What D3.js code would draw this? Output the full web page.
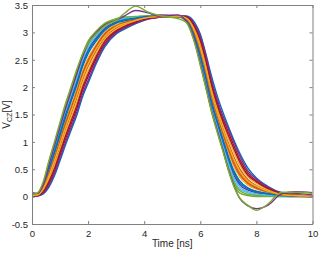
<!DOCTYPE html>
<html>
<head>
<meta charset="utf-8">
<script src="https://cdn.jsdelivr.net/npm/d3@7"></script>
<style>
  body { margin: 0; background: #fff; }
  svg { display: block; font-family: "Liberation Sans", Arial, sans-serif; }
  .axis text { fill: #262626; font-size: 9.5px; }
  .axis path, .axis line { stroke: #808080; }
</style>
</head>
<body>
<svg width="320" height="253"></svg>
<script>
// time axis shared by all runs [ns]
const timeNs = [0, 0.2, 0.4, 0.6, 0.8, 1.0, 1.2, 1.4, 1.6, 1.8, 2.0, 2.3, 2.6, 3.0, 3.3, 3.7, 4.1, 4.6, 5.2, 5.5, 5.8, 6.0, 6.2, 6.4, 6.6, 6.8, 7.0, 7.2, 7.4, 7.7, 8.0, 8.4, 8.9, 9.4, 10];

// V_CZ waveforms [V]
const run01 = [0.00, 0.01, 0.05, 0.17, 0.38, 0.66, 0.95, 1.22, 1.49, 1.82, 2.07, 2.44, 2.74, 2.97, 3.06, 3.16, 3.24, 3.28, 3.30, 3.30, 3.18, 2.97, 2.60, 2.20, 1.85, 1.55, 1.28, 1.03, 0.80, 0.52, 0.34, 0.19, 0.07, 0.03, 0.01];
const run02 = [0.03, 0.04, 0.15, 0.40, 0.68, 0.99, 1.31, 1.60, 1.89, 2.21, 2.46, 2.74, 2.96, 3.11, 3.17, 3.23, 3.27, 3.29, 3.30, 3.25, 3.00, 2.70, 2.31, 1.87, 1.51, 1.20, 0.90, 0.64, 0.44, 0.26, 0.17, 0.10, 0.04, 0.02, 0.01];
const run03 = [0.03, 0.04, 0.17, 0.44, 0.73, 1.06, 1.38, 1.67, 1.96, 2.29, 2.53, 2.79, 3.00, 3.14, 3.19, 3.24, 3.28, 3.29, 3.29, 3.24, 2.96, 2.64, 2.25, 1.80, 1.45, 1.13, 0.82, 0.55, 0.36, 0.21, 0.14, 0.08, 0.03, 0.01, 0.00];
const run04 = [0.04, 0.05, 0.21, 0.53, 0.85, 1.19, 1.53, 1.82, 2.12, 2.44, 2.69, 2.91, 3.08, 3.19, 3.24, 3.26, 3.29, 3.32, 3.31, 3.22, 2.89, 2.53, 2.12, 1.68, 1.32, 0.99, 0.66, 0.39, 0.22, 0.12, 0.07, 0.04, 0.01, 0.01, 0.00];
const run05 = [0.05, 0.06, 0.25, 0.62, 0.97, 1.32, 1.67, 1.97, 2.28, 2.60, 2.84, 3.03, 3.17, 3.25, 3.28, 3.29, 3.30, 3.30, 3.29, 3.20, 2.82, 2.42, 2.00, 1.56, 1.20, 0.86, 0.50, 0.22, 0.07, 0.02, 0.00, 0.00, 0.00, 0.00, 0.00];
const run06 = [0.05, 0.06, 0.23, 0.58, 0.91, 1.25, 1.60, 1.90, 2.20, 2.52, 2.76, 2.97, 3.13, 3.22, 3.26, 3.28, 3.29, 3.30, 3.29, 3.21, 2.86, 2.48, 2.06, 1.62, 1.26, 0.93, 0.58, 0.30, 0.14, 0.07, 0.03, 0.02, 0.01, 0.00, 0.00];
const run07 = [0.01, 0.02, 0.08, 0.24, 0.47, 0.76, 1.06, 1.33, 1.61, 1.94, 2.19, 2.53, 2.80, 3.01, 3.09, 3.18, 3.25, 3.28, 3.30, 3.29, 3.13, 2.89, 2.53, 2.08, 1.73, 1.43, 1.18, 0.93, 0.69, 0.43, 0.29, 0.16, 0.06, 0.03, 0.01];
const run08 = [0.04, 0.05, 0.19, 0.49, 0.79, 1.12, 1.45, 1.75, 2.04, 2.37, 2.61, 2.85, 3.04, 3.17, 3.21, 3.25, 3.28, 3.29, 3.29, 3.23, 2.93, 2.59, 2.19, 1.74, 1.39, 1.06, 0.74, 0.47, 0.29, 0.16, 0.10, 0.06, 0.02, 0.01, 0.00];
const run09 = [0.02, 0.03, 0.13, 0.35, 0.62, 0.92, 1.24, 1.52, 1.81, 2.13, 2.38, 2.68, 2.91, 3.08, 3.15, 3.21, 3.26, 3.29, 3.30, 3.26, 3.04, 2.75, 2.37, 1.93, 1.57, 1.26, 0.98, 0.72, 0.51, 0.31, 0.20, 0.11, 0.04, 0.02, 0.01];
const run10 = [0.02, 0.03, 0.11, 0.31, 0.56, 0.86, 1.17, 1.45, 1.73, 2.05, 2.30, 2.62, 2.87, 3.05, 3.13, 3.20, 3.26, 3.29, 3.30, 3.27, 3.07, 2.81, 2.43, 1.99, 1.63, 1.33, 1.06, 0.80, 0.58, 0.36, 0.24, 0.13, 0.05, 0.02, 0.01];
const run11 = [0.00, 0.01, 0.06, 0.20, 0.42, 0.71, 1.00, 1.27, 1.55, 1.87, 2.12, 2.48, 2.77, 2.99, 3.08, 3.17, 3.24, 3.28, 3.30, 3.29, 3.15, 2.93, 2.58, 2.13, 1.78, 1.48, 1.24, 0.99, 0.75, 0.47, 0.32, 0.18, 0.07, 0.06, 0.03];
const run12 = [0.05, 0.06, 0.24, 0.60, 0.94, 1.29, 1.63, 1.93, 2.24, 2.56, 2.80, 3.00, 3.15, 3.24, 3.27, 3.28, 3.30, 3.30, 3.29, 3.21, 2.84, 2.45, 2.03, 1.59, 1.23, 0.89, 0.54, 0.26, 0.11, 0.04, 0.02, 0.01, 0.00, 0.00, 0.00];
const run13 = [0.04, 0.05, 0.22, 0.55, 0.88, 1.22, 1.56, 1.86, 2.16, 2.48, 2.72, 2.94, 3.11, 3.21, 3.25, 3.27, 3.29, 3.30, 3.29, 3.22, 2.87, 2.50, 2.09, 1.65, 1.29, 0.96, 0.62, 0.34, 0.18, 0.09, 0.05, 0.03, 0.01, 0.00, 0.00];
const run14 = [0.01, 0.02, 0.09, 0.27, 0.51, 0.81, 1.11, 1.39, 1.66, 1.99, 2.24, 2.57, 2.84, 3.03, 3.11, 3.19, 3.25, 3.28, 3.30, 3.28, 3.10, 2.85, 2.48, 2.04, 1.68, 1.38, 1.12, 0.87, 0.64, 0.39, 0.27, 0.15, 0.06, 0.02, 0.01];
const run15 = [0.04, 0.05, 0.20, 0.51, 0.82, 1.16, 1.49, 1.78, 2.08, 2.41, 2.65, 2.88, 3.06, 3.18, 3.23, 3.26, 3.29, 3.30, 3.29, 3.23, 2.91, 2.56, 2.16, 1.71, 1.36, 1.03, 0.70, 0.43, 0.25, 0.14, 0.09, 0.05, 0.02, 0.01, 0.00];
const run16 = [0.03, 0.04, 0.16, 0.42, 0.70, 1.02, 1.35, 1.63, 1.92, 2.25, 2.49, 2.76, 2.98, 3.12, 3.18, 3.23, 3.27, 3.29, 3.29, 3.25, 2.98, 2.67, 2.28, 1.83, 1.48, 1.16, 0.86, 0.59, 0.40, 0.24, 0.15, 0.09, 0.03, 0.01, 0.00];
const run17 = [0.02, 0.03, 0.14, 0.37, 0.65, 0.96, 1.27, 1.56, 1.85, 2.17, 2.42, 2.71, 2.93, 3.10, 3.16, 3.22, 3.27, 3.29, 3.30, 3.26, 3.02, 2.72, 2.34, 1.90, 1.54, 1.23, 0.94, 0.68, 0.47, 0.28, 0.19, 0.10, 0.04, 0.02, 0.01];
const run18 = [0.07, 0.06, 0.22, 0.58, 0.93, 1.28, 1.62, 1.93, 2.25, 2.55, 2.80, 3.00, 3.14, 3.22, 3.30, 3.40, 3.36, 3.29, 3.32, 3.20, 2.84, 2.44, 2.02, 1.58, 1.22, 0.87, 0.50, 0.20, -0.03, -0.17, -0.22, -0.16, 0.05, 0.09, 0.07];
const run19 = [0.04, 0.07, 0.27, 0.65, 1.00, 1.36, 1.71, 2.02, 2.33, 2.60, 2.80, 2.98, 3.12, 3.22, 3.35, 3.48, 3.38, 3.30, 3.25, 3.18, 2.80, 2.40, 1.98, 1.55, 1.18, 0.84, 0.48, 0.18, -0.02, -0.16, -0.25, -0.14, 0.08, 0.08, 0.06];

const runs = [run01, run02, run03, run04, run05, run06, run07, run08, run09, run10,
              run11, run12, run13, run14, run15, run16, run17, run18, run19];

const xTickValues = [0, 2, 4, 6, 8, 10];
const yTickValues = [-0.5, 0, 0.5, 1, 1.5, 2, 2.5, 3, 3.5];
const yTickLabels = ['-0.5', '0', '0.5', '1', '1.5', '2', '2.5', '3', '3.5'];

// MATLAB default line colour order
const lineColors = ['#0072BD', '#D95319', '#EDB120', '#7E2F8E', '#77AC30', '#4DBEEE', '#A2142F'];

const margin = { left: 32, right: 7.5, top: 5, bottom: 29 };
const width = 320, height = 253;
const innerWidth = width - margin.left - margin.right;
const innerHeight = height - margin.top - margin.bottom;

const svg = d3.select('svg');

const x = d3.scaleLinear().domain([0, 10]).range([0, innerWidth]);
const y = d3.scaleLinear().domain([-0.5, 3.5]).range([innerHeight, 0]);
const color = d3.scaleOrdinal().domain(d3.range(lineColors.length)).range(lineColors);

svg.append('defs').append('clipPath').attr('id', 'plot-clip')
    .append('rect').attr('width', innerWidth).attr('height', innerHeight);

const plot = svg.append('g')
    .attr('transform', `translate(${margin.left}, ${margin.top})`);

// curves
const line = d3.line()
    .x((d, i) => x(timeNs[i]))
    .y((d) => y(d))
    .curve(d3.curveMonotoneX);

plot.append('g')
    .attr('clip-path', 'url(#plot-clip)')
    .selectAll('path')
    .data(runs)
    .enter()
    .append('path')
    .attr('d', line)
    .attr('fill', 'none')
    .attr('stroke', (d, i) => color(i % lineColors.length))
    .attr('stroke-width', 1.4);

// box with inward ticks on all sides
const fmtY = (d) => yTickLabels[yTickValues.indexOf(d)];

plot.append('g').attr('class', 'axis')
    .attr('transform', `translate(0, ${innerHeight})`)
    .call(d3.axisBottom(x).tickValues(xTickValues).tickSize(-3).tickSizeOuter(0).tickFormat(d3.format('d')))
    .call((g) => g.selectAll('text').attr('y', 13).attr('dy', null));
plot.append('g').attr('class', 'axis')
    .call(d3.axisLeft(y).tickValues(yTickValues).tickSize(-3).tickSizeOuter(0).tickPadding(4).tickFormat(fmtY))
    .call((g) => g.selectAll('text').attr('y', 3.3).attr('dy', null));
plot.append('g').attr('class', 'axis')
    .call(d3.axisTop(x).tickValues(xTickValues).tickSize(-3).tickSizeOuter(0))
    .call((g) => g.selectAll('text').remove());
plot.append('g').attr('class', 'axis')
    .attr('transform', `translate(${innerWidth}, 0)`)
    .call(d3.axisRight(y).tickValues(yTickValues).tickSize(-3).tickSizeOuter(0))
    .call((g) => g.selectAll('text').remove());

plot.selectAll('.axis').attr('font-family', null).attr('font-size', null);

// axis labels
svg.append('text')
    .attr('x', margin.left + innerWidth / 2)
    .attr('y', 247)
    .attr('text-anchor', 'middle')
    .attr('fill', '#262626')
    .attr('font-size', '10px')
    .text('Time [ns]');

const yLabel = svg.append('text')
    .attr('transform', `translate(10, ${margin.top + innerHeight / 2}) rotate(-90)`)
    .attr('text-anchor', 'middle')
    .attr('fill', '#262626')
    .attr('font-size', '10px');
yLabel.append('tspan').text('V');
yLabel.append('tspan').attr('font-size', '7px').attr('dy', 2).text('CZ');
yLabel.append('tspan').attr('dy', -2).text('[V]');
</script>
</body>
</html>
